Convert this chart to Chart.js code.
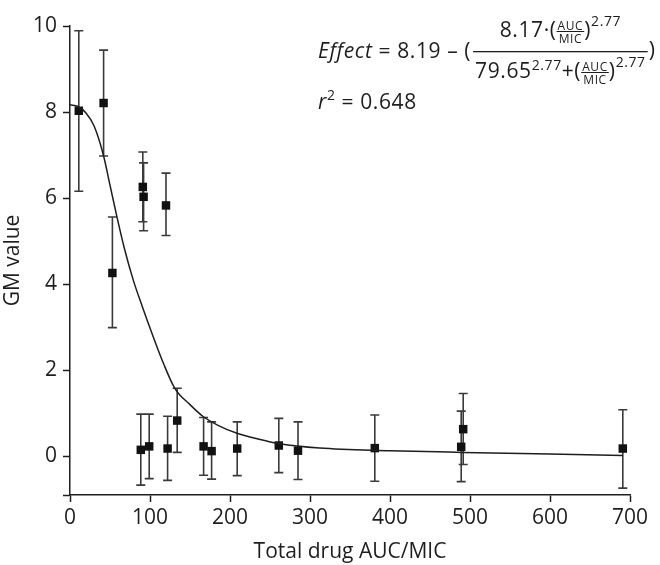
<!DOCTYPE html>
<html>
<head>
<meta charset="utf-8">
<script src="https://cdn.jsdelivr.net/npm/chart.js@4/dist/chart.umd.min.js"></script>
<style>
  html, body { margin: 0; padding: 0; background: #fff; }
  #wrap { width: 660px; height: 565px; position: relative; }
</style>
</head>
<body>
<div id="wrap"><canvas id="gm-chart" width="660" height="565"></canvas></div>
<script>
// measured points (total drug AUC/MIC vs GM value)
const aucMic = [11, 42, 53, 88.5, 91, 92, 99, 120, 122, 134, 167, 177, 209, 261, 285, 381, 489, 491.5, 691]
const gmValue = [8.03, 8.21, 4.26, 0.15, 6.26, 6.03, 0.23, 5.83, 0.18, 0.83, 0.23, 0.12, 0.18, 0.25, 0.13, 0.19, 0.22, 0.63, 0.18]
const errUpper = [9.89, 9.44, 5.56, 0.98, 7.07, 6.82, 0.98, 6.58, 0.93, 1.58, 0.90, 0.80, 0.80, 0.88, 0.80, 0.96, 1.05, 1.46, 1.08]
const errLower = [6.16, 6.98, 2.99, -0.67, 5.45, 5.24, -0.52, 5.13, -0.56, 0.09, -0.44, -0.53, -0.45, -0.38, -0.54, -0.58, -0.59, -0.19, -0.74]

// fitted curve
const fitX = [0, 10, 20, 30, 42, 50, 58, 68, 79, 90, 104, 117, 131, 150, 166, 185, 208, 235, 262, 312, 400, 491, 600, 691]
const fitY = [8.17, 8.13, 7.98, 7.68, 6.98, 6.30, 5.62, 4.83, 4.10, 3.50, 2.78, 2.15, 1.58, 1.20, 0.93, 0.72, 0.54, 0.40, 0.29, 0.19, 0.13, 0.09, 0.05, 0.02]

const xTicks = [0, 100, 200, 300, 400, 500, 600, 700]
const yTicks = [0, 2, 4, 6, 8, 10]
const yMin = -0.9

const FONT = "'Open Sans', sans-serif"
const INK = "#1e1e1e"

// error bars, drawn under the squares
const errorBars = {
  id: "errorBars",
  beforeDatasetsDraw(chart) {
    const ctx = chart.ctx
    const xs = chart.scales.x
    const ys = chart.scales.y
    ctx.save()
    ctx.strokeStyle = "#3a3a3a"
    ctx.lineWidth = 1.6
    aucMic.forEach((x, i) => {
      const px = xs.getPixelForValue(x)
      const top = ys.getPixelForValue(errUpper[i])
      const bot = ys.getPixelForValue(errLower[i])
      ctx.beginPath()
      ctx.moveTo(px, top); ctx.lineTo(px, bot)
      ctx.moveTo(px - 4.5, top); ctx.lineTo(px + 4.5, top)
      ctx.moveTo(px - 4.5, bot); ctx.lineTo(px + 4.5, bot)
      ctx.stroke()
    })
    ctx.restore()
  }
}

// formula text in the top right corner
function partWidth(ctx, p) {
  ctx.font = p.font
  if (p.frac) {
    return Math.max(ctx.measureText(p.frac[0]).width, ctx.measureText(p.frac[1]).width) + 2
  }
  return ctx.measureText(p.t).width
}

function runWidth(ctx, parts) {
  return parts.reduce((w, p) => w + partWidth(ctx, p), 0)
}

function drawRun(ctx, parts, x, base) {
  parts.forEach((p) => {
    const w = partWidth(ctx, p)
    ctx.font = p.font
    if (p.frac) {
      ctx.textAlign = "center"
      ctx.fillText(p.frac[0], x + w / 2, base - 7.5)
      ctx.fillText(p.frac[1], x + w / 2, base + 5.5)
      ctx.fillRect(x, base - 6, w, 1)
      ctx.textAlign = "left"
    } else {
      ctx.fillText(p.t, x, base + (p.dy || 0))
    }
    x += w
  })
  return x
}

const formula = {
  id: "formula",
  afterDraw(chart) {
    const ctx = chart.ctx
    const big = "21px " + FONT
    const it = "italic 21px " + FONT
    const sup = "14px " + FONT
    const sm = "12px " + FONT
    ctx.save()
    ctx.fillStyle = INK
    ctx.textAlign = "left"
    ctx.textBaseline = "alphabetic"
    ctx.letterSpacing = "0.6px"

    const lead = [{ t: "Effect", font: it }, { t: " = 8.19 – (", font: big }]
    const barL = drawRun(ctx, lead, 318, 58) + 2

    const num = [
      { t: "8.17·(", font: big },
      { frac: ["AUC", "MIC"], font: sm },
      { t: ")", font: big },
      { t: "2.77", font: sup, dy: -11 }
    ]
    const den = [
      { t: "79.65", font: big },
      { t: "2.77", font: sup, dy: -8 },
      { t: "+(", font: big },
      { frac: ["AUC", "MIC"], font: sm },
      { t: ")", font: big },
      { t: "2.77", font: sup, dy: -11 }
    ]
    const nw = runWidth(ctx, num)
    const dw = runWidth(ctx, den)
    const bw = Math.max(nw, dw) + 4
    drawRun(ctx, num, barL + (bw - nw) / 2, 37)
    drawRun(ctx, den, barL + (bw - dw) / 2, 78)
    ctx.fillRect(barL, 51, bw, 1.3)
    ctx.font = big
    ctx.fillText(")", barL + bw + 1, 57)

    drawRun(ctx, [
      { t: "r", font: it },
      { t: "2", font: sup, dy: -9 },
      { t: " = 0.648", font: big }
    ], 318, 109)
    ctx.restore()
  }
}

const ctx = document.getElementById("gm-chart").getContext("2d")
new Chart(ctx, {
  type: "scatter",
  data: {
    datasets: [
      {
        type: "line",
        label: "Fit",
        data: fitX.map((x, i) => ({ x: x, y: fitY[i] })),
        borderColor: INK,
        borderWidth: 1.5,
        pointRadius: 0,
        fill: false,
        cubicInterpolationMode: "monotone",
      },
      {
        label: "GM value",
        data: aucMic.map((x, i) => ({ x: x, y: gmValue[i] })),
        pointStyle: "rect",
        radius: 6,
        backgroundColor: "#111",
        borderColor: "#111",
        borderWidth: 0,
      },
    ],
  },
  options: {
    responsive: false,
    animation: false,
    events: [],
    layout: { padding: { left: 0, right: 30, top: 26, bottom: 0 } },
    plugins: { legend: { display: false }, tooltip: { enabled: false } },
    scales: {
      x: {
        type: "linear",
        min: 0,
        max: 700,
        afterBuildTicks: (s) => { s.ticks = xTicks.map((v) => ({ value: v })) },
        afterFit: (s) => { s.height = 70 },
        border: { color: INK, width: 1.5 },
        grid: { drawOnChartArea: false, drawTicks: true, tickLength: 7, tickColor: INK, tickWidth: 1.5 },
        ticks: { color: INK, font: { family: FONT, size: 21 }, padding: 3, maxRotation: 0 },
        title: { display: true, text: "Total drug AUC/MIC", color: INK, font: { family: FONT, size: 21 }, padding: { top: 0, bottom: 0 } },
      },
      y: {
        type: "linear",
        min: yMin,
        max: 10,
        afterBuildTicks: (s) => { s.ticks = [yMin].concat(yTicks).map((v) => ({ value: v })) },
        afterFit: (s) => { s.width = 70 },
        border: { color: INK, width: 1.5 },
        grid: { drawOnChartArea: false, drawTicks: true, tickLength: 7, tickColor: INK, tickWidth: 1.5 },
        ticks: {
          color: INK,
          font: { family: FONT, size: 21 },
          padding: 6,
          callback: (v) => (v === yMin ? "" : v),
        },
        title: { display: true, text: "GM value", color: INK, font: { family: FONT, size: 21 }, padding: { top: 0, bottom: 4 } },
      },
    },
  },
  plugins: [errorBars, formula],
})
</script>
</body>
</html>
